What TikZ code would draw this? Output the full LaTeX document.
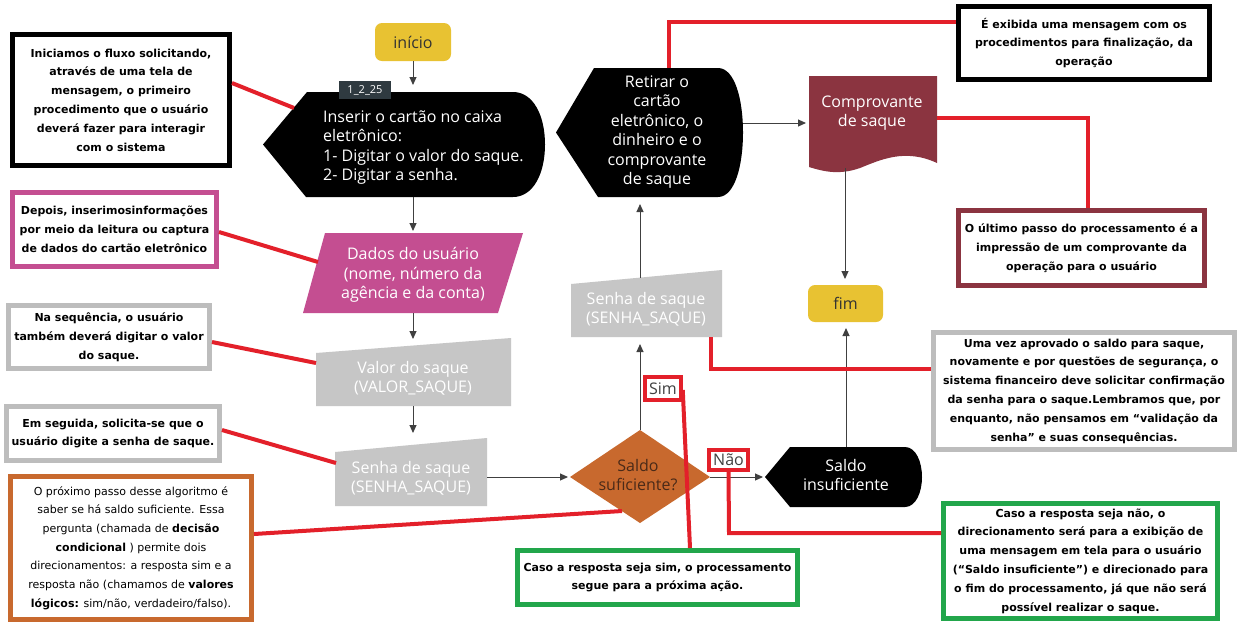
\documentclass[tikz,border=0pt]{standalone}
\usepackage{fontspec}
\setmainfont{Open Sans}
\newfontfamily\notefont{DejaVu Sans}
\usetikzlibrary{arrows.meta}
\definecolor{cyellow}{HTML}{E8C232}
\definecolor{cmag}{HTML}{C44E91}
\definecolor{cgray}{HTML}{C6C6C6}
\definecolor{corange}{HTML}{C8692E}
\definecolor{cmaroon}{HTML}{8B3440}
\definecolor{cgreen}{HTML}{22A64B}
\definecolor{cred}{HTML}{E3202A}
\definecolor{cbgray}{HTML}{BDBDBD}
\definecolor{clabel}{HTML}{2F3A40}
\definecolor{cdark}{HTML}{4A2A18}
\begin{document}
\begin{tikzpicture}[x=1pt,y=-1pt,
  flowtext/.style={font=\fontsize{16}{19.5}\selectfont, align=center, inner sep=0pt, anchor=base},
  wtxt/.style={flowtext, text=white},
  conn/.style={draw=black!75, line width=1pt, -{Triangle[length=8pt,width=7pt]}},
  redl/.style={draw=cred, line width=4pt},
  note/.style={fill=white, line width=5pt, align=center, inner sep=0pt,
    font=\notefont\bfseries\fontsize{11}{18.8}\selectfont},
  notereg/.style={note, font=\notefont\fontsize{11}{18.7}\selectfont},
  term/.style={fill=cyellow, rounded corners=7pt, font=\fontsize{16}{19.5}\selectfont,
    text=black!80, inner sep=0pt},
  tagbox/.style={draw=cred, line width=3.5pt, fill=white, inner sep=0pt,
    font=\fontsize{16}{19.5}\selectfont, text=black!75}
]
\useasboundingbox[fill=white] (0,0) rectangle (1247,633);

% ---------- terminals
\node[term, minimum width=76pt, minimum height=38pt] (inicio) at (413,42) {início};
\node[term, minimum width=75pt, minimum height=37pt] (fim) at (845.5,303.5) {fim};

% ---------- shapes
\fill[black] (307,92) -- (513,92) .. controls (533,92) and (545,115) .. (545,144.5)
  .. controls (545,174) and (533,197) .. (513,197) -- (306,197) -- (263,144.5) -- cycle;
\node[wtxt, align=left, anchor=base west] (inserir) at (323,180.5)
  {Inserir o cartão no caixa\\eletrônico:\\1- Digitar o valor do saque.\\2- Digitar a senha.};
\node[fill=clabel, text=white, font=\fontsize{11}{13}\selectfont, minimum width=52pt,
  minimum height=18pt, inner sep=0pt] (tag) at (365,90) {1\_2\_25};

\fill[cmag] (325,233) -- (523,233) -- (498,313) -- (303,313) -- cycle;
\node[wtxt] (dados) at (413,298.5) {Dados do usuário\\(nome, número da\\agência e da conta)};

\fill[cgray] (316,353) -- (511,338) -- (511,406) -- (316,406) -- cycle;
\node[wtxt] (valor) at (413,392.5) {Valor do saque\\(VALOR\_SAQUE)};

\fill[cgray] (335,452) -- (487,438) -- (487,506) -- (335,506) -- cycle;
\node[wtxt] (senha1) at (411,492.5) {Senha de saque\\(SENHA\_SAQUE)};

\fill[corange] (570,477) -- (640,430) -- (710,477) -- (640,523) -- cycle;
\node[flowtext, text=cdark] (saldo) at (638,490.5) {Saldo\\suficiente?};

\fill[cgray] (571,284) -- (722,270) -- (722,337) -- (571,337) -- cycle;
\node[wtxt] (senha2) at (646,323.5) {Senha de saque\\(SENHA\_SAQUE)};

\fill[black] (594,68) -- (718,68) .. controls (735,68) and (743,100) .. (743,132.5)
  .. controls (743,165) and (735,197) .. (718,197) -- (598,197) -- (556,132.5) -- cycle;
\node[wtxt] (retirar) at (657,184.5)
  {Retirar o\\cartão\\eletrônico, o\\dinheiro e o\\comprovante\\de saque};

\fill[cmaroon] (809,76) -- (937,76) -- (937,163)
  .. controls (905,148) and (880,160) .. (860,168)
  .. controls (840,175) and (825,172) .. (809,167) -- cycle;
\node[wtxt] (comprov) at (872,126.5) {Comprovante\\de saque};

\fill[black] (790,447) -- (905,447) .. controls (916,447) and (922,462) .. (922,477)
  .. controls (922,492) and (916,507) .. (905,507) -- (790,507) -- (765,477) -- cycle;
\node[wtxt] (insuf) at (846,490.5) {Saldo\\insuficiente};

% ---------- connector end points
\coordinate (insTop) at (413,85);
\coordinate (insBot) at (413,197);
\coordinate (parTop) at (413,231);
\coordinate (parBot) at (413,313);
\coordinate (mi1Top) at (413,339);
\coordinate (mi1Bot) at (413,406);
\coordinate (mi2Top) at (413,433);
\coordinate (mi2R) at (487,477);
\coordinate (diaL) at (568,477);
\coordinate (diaT) at (640,430);
\coordinate (diaR) at (710,477);
\coordinate (s2Bot) at (640,344);
\coordinate (s2Top) at (640,278);
\coordinate (retBot) at (640,204);
\coordinate (retR) at (743,123);
\coordinate (docL) at (806,123);
\coordinate (docBot) at (845,168);
\coordinate (fimTop) at (845,279);
\coordinate (fimBot) at (846,328);
\coordinate (insufL) at (763,477);
\coordinate (insufTop) at (846,447);

% ---------- connectors
\draw[conn] (inicio.south) -- (insTop);
\draw[conn] (insBot) -- (parTop);
\draw[conn] (parBot) -- (mi1Top);
\draw[conn] (mi1Bot) -- (mi2Top);
\draw[conn] (mi2R) -- (diaL);
\draw[conn] (diaT) -- (s2Bot);
\draw[conn] (s2Top) -- (retBot);
\draw[conn] (retR) -- (docL);
\draw[conn] (docBot) -- (fimTop);
\draw[conn] (diaR) -- (insufL);
\draw[conn] (insufTop) -- (fimBot);

% ---------- notes
\node[note, draw=black, minimum width=217pt, minimum height=131pt] (nA) at (121,100)
  {Iniciamos o fluxo solicitando,\\através de uma tela de\\mensagem, o primeiro\\procedimento que o usuário\\deverá fazer para interagir\\com o sistema};
\node[note, draw=cmag, minimum width=204pt, minimum height=74pt] (nB) at (114.5,229.5)
  {Depois, inserimosinformações\\por meio da leitura ou captura\\de dados do cartão eletrônico};
\node[note, draw=cbgray, minimum width=201pt, minimum height=63pt] (nC) at (109,337)
  {Na sequência, o usuário\\também deverá digitar o valor\\do saque.};
\node[note, draw=cbgray, minimum width=213pt, minimum height=54pt] (nD) at (113,433.5)
  {Em seguida, solicita-se que o\\usuário digite a senha de saque.};
\node[notereg, draw=corange, minimum width=241pt, minimum height=143pt] (nE) at (131,548)
  {O próximo passo desse algoritmo é\\saber se há saldo suficiente. Essa\\pergunta (chamada de \textbf{decisão}\\\textbf{condicional} ) permite dois\\direcionamentos: a resposta sim e a\\resposta não (chamamos de \textbf{valores}\\\textbf{lógicos:} sim/não, verdadeiro/falso).};
\node[note, draw=cgreen, minimum width=280pt, minimum height=54pt] (nF) at (657.5,577.5)
  {Caso a resposta seja sim, o processamento\\segue para a próxima ação.};
\node[note, draw=black, minimum width=251pt, minimum height=73pt] (nG) at (1084,43)
  {É exibida uma mensagem com os\\procedimentos para finalização, da\\operação};
\node[note, draw=cmaroon, minimum width=246pt, minimum height=75pt] (nH) at (1081.5,248)
  {O último passo do processamento é a\\impressão de um comprovante da\\operação para o usuário};
\node[note, draw=cbgray, minimum width=301pt, minimum height=117pt] (nI) at (1084,391)
  {Uma vez aprovado o saldo para saque,\\novamente e por questões de segurança, o\\sistema financeiro deve solicitar confirmação\\da senha para o saque.Lembramos que, por\\enquanto, não pensamos em “validação da\\senha” e suas consequências.};
\node[note, draw=cgreen, minimum width=274pt, minimum height=115pt] (nJ) at (1080.5,561)
  {Caso a resposta seja não, o\\direcionamento será para a exibição de\\uma mensagem em tela para o usuário\\(“Saldo insuficiente”) e direcionado para\\o fim do processamento, já que não será\\possível realizar o saque.};

% ---------- Sim / Não labels
\node[tagbox, minimum width=36pt, minimum height=23pt] (sim) at (663,388.5) {Sim};
\node[tagbox, minimum width=39pt, minimum height=20pt] (nao) at (728.5,460) {Não};

% ---------- red annotation lines
\coordinate (eA) at (294,108);
\coordinate (eB) at (318,262);
\coordinate (eC) at (316,363);
\coordinate (eD) at (336,463);
\coordinate (eE) at (622,511);
\coordinate (eRet) at (669,68);
\coordinate (eDoc) at (937,118);
\coordinate (eS2) at (711,337);
\draw[redl] (nA.east |- 0,83) -- (eA);
\draw[redl] (nB.east |- 0,232) -- (eB);
\draw[redl] (nC.east |- 0,342) -- (eC);
\draw[redl] (nD.east |- 0,430) -- (eD);
\draw[redl] (nE.east |- 0,534) -- (eE);
\draw[redl] (sim.east |- 0,390) -- (nF.north -| 690,0);
\draw[redl] (nao.south) -- (729,533) -- (nJ.west |- 0,533);
\draw[redl] (eS2) -- (711,369) -- (nI.west |- 0,369);
\draw[redl] (eRet) -- (669,22) -- (nG.west |- 0,22);
\draw[redl] (eDoc) -- (1088,118) -- (nH.north -| 1088,0);
\end{tikzpicture}
\end{document}
